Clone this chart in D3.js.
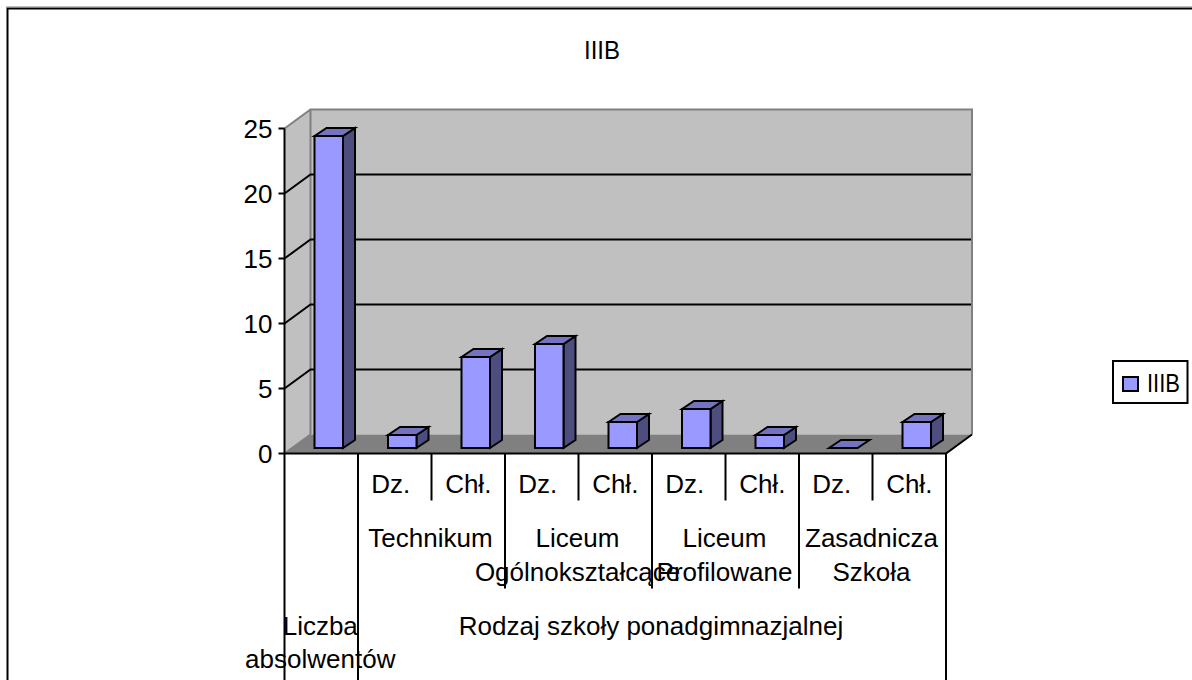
<!DOCTYPE html>
<html><head><meta charset="utf-8">
<script src="https://cdn.jsdelivr.net/npm/d3@7/dist/d3.min.js"></script>
<style>html,body{margin:0;padding:0;background:#fff;overflow:hidden}svg{display:block}text{font-family:"Liberation Sans",Arial,sans-serif;fill:#000}</style>
</head><body><svg id="c" width="1192" height="680"></svg>
<script>
const chartTitle = "IIIB";
const seriesName = "IIIB";
const leafLabels = ["", "Dz.", "Chł.", "Dz.", "Chł.", "Dz.", "Chł.", "Dz.", "Chł."];
const values = [24, 1, 7, 8, 2, 3, 1, 0, 2];
const yTicks = [0, 5, 10, 15, 20, 25];
const groupLabels = [[1, 3, ["Technikum"]], [3, 5, ["Liceum", "Ogólnokształcące"]], [5, 7, ["Liceum", "Profilowane"]], [7, 9, ["Zasadnicza", "Szkoła"]]];
const topLabels = [[0, 1, ["Liczba", "absolwentów"]], [1, 9, ["Rodzaj szkoły ponadgimnazjalnej"]]];

const svg = d3.select("#c");
const fs = 26;
const x0 = 284.5, x1 = 946, yB = 453.5, yT = 128.5;
const dx = 26, dy = 19;            // 3-D wall depth
const bdx = 7.5, bdy = 5.5;        // bar front offset from front plane
const bsx = 12, bsy = 8;           // bar depth
const barW = 28.5;
const x = d3.scaleBand().domain(d3.range(values.length)).range([x0, x1]);
const y = d3.scaleLinear().domain([0, 25]).range([yB, yT]);
const poly = pts => pts.map(p => p.join(",")).join(" ");

// outer frame
svg.append("path").attr("d", "M7.5,680V8.5H1192").attr("fill", "none").attr("stroke", "#000").attr("stroke-width", 2);
svg.append("path").attr("d", "M6,7H1192").attr("fill", "none").attr("stroke", "#808080").attr("stroke-width", 1);

// title
svg.append("text").attr("x", 602).attr("y", 59).attr("text-anchor", "middle").attr("font-size", fs).attr("textLength", 36).attr("lengthAdjust", "spacingAndGlyphs").text(chartTitle);

// walls
svg.append("polygon").attr("points", poly([[x0 + dx, yT - dy], [x1 + dx, yT - dy], [x1 + dx, yB - dy], [x0 + dx, yB - dy]])).attr("fill", "#c0c0c0");
svg.append("polygon").attr("points", poly([[x0, yT], [x0 + dx, yT - dy], [x0 + dx, yB - dy], [x0, yB]])).attr("fill", "#c0c0c0");
svg.append("polygon").attr("points", poly([[x0, yB], [x0 + dx, yB - dy], [x1 + dx, yB - dy], [x1, yB]])).attr("fill", "#808080");
svg.append("path").attr("d", `M${x0},${yT}L${x0 + dx},${yT - dy}H${x1 + dx}V${yB - dy}M${x0 + dx},${yT - dy}V${yB - dy}M${x0},${yB}L${x0 + dx},${yB - dy}`).attr("fill", "none").attr("stroke", "#808080").attr("stroke-width", 2);

// gridlines
yTicks.filter(t => t > 0 && t < 25).forEach(t => {
  svg.append("path").attr("d", `M${x0},${y(t)}L${x0 + dx},${y(t) - dy}H${x1 + dx - 1}`).attr("fill", "none").attr("stroke", "#000").attr("stroke-width", 2);
});

// axes
svg.append("path").attr("d", `M${x0},${yT}V${yB}H${x1}L${x1 + dx},${yB - dy}`).attr("fill", "none").attr("stroke", "#000").attr("stroke-width", 2);
yTicks.forEach(t => {
  svg.append("line").attr("x1", x0 - 6).attr("x2", x0).attr("y1", y(t)).attr("y2", y(t)).attr("stroke", "#000").attr("stroke-width", 2);
  svg.append("text").attr("x", x0 - 12).attr("y", y(t) + 9).attr("text-anchor", "end").attr("font-size", fs).text(t);
});

// bars
values.forEach((v, i) => {
  const cx = x(i) + x.bandwidth() / 2 + bdx;
  const l = cx - barW / 2, r = cx + barW / 2, b = yB - bdy, t = y(v) - bdy;
  const g = svg.append("g").attr("stroke", "#000").attr("stroke-width", 2).attr("stroke-linejoin", "miter");
  if (v > 0) {
    g.append("polygon").attr("points", poly([[r, b], [r + bsx, b - bsy], [r + bsx, t - bsy], [r, t]])).attr("fill", "#4d4d80");
    g.append("rect").attr("x", l).attr("y", t).attr("width", barW).attr("height", b - t).attr("fill", "#9999ff");
  }
  g.append("polygon").attr("points", poly([[l, t], [l + bsx, t - bsy], [r + bsx, t - bsy], [r, t]])).attr("fill", "#7373bf");
});

// multi-level category axis
const sep = (i, len) => svg.append("line").attr("x1", x0 + i * x.bandwidth()).attr("x2", x0 + i * x.bandwidth()).attr("y1", yB).attr("y2", yB + len).attr("stroke", "#000").attr("stroke-width", 2);
[2, 4, 6, 8].forEach(i => sep(i, 47));
[3, 5, 7].forEach(i => sep(i, 135));
[0, 1, 9].forEach(i => sep(i, 227));

leafLabels.forEach((s, i) => {
  const nudge = s === "Dz." ? -4 : 0;
  svg.append("text").attr("x", x(i) + x.bandwidth() / 2 + nudge).attr("y", 493).attr("text-anchor", "middle").attr("font-size", fs).text(s);
});
const span = (a, b) => x0 + (a + b) / 2 * x.bandwidth();
groupLabels.forEach(([a, b, lines]) => lines.forEach((s, k) => {
  svg.append("text").attr("x", span(a, b) - 1).attr("y", 547 + k * 34).attr("text-anchor", "middle").attr("font-size", fs).text(s);
}));
topLabels.forEach(([a, b, lines]) => lines.forEach((s, k) => {
  svg.append("text").attr("x", span(a, b) - 1).attr("y", 635 + k * 33).attr("text-anchor", "middle").attr("font-size", fs).text(s);
}));

// legend
svg.append("rect").attr("x", 1113).attr("y", 361).attr("width", 74.5).attr("height", 42).attr("fill", "#fff").attr("stroke", "#000").attr("stroke-width", 2);
svg.append("rect").attr("x", 1123).attr("y", 377).attr("width", 15).attr("height", 14).attr("fill", "#9999ff").attr("stroke", "#000").attr("stroke-width", 2);
svg.append("text").attr("x", 1147).attr("y", 392).attr("font-size", fs).attr("textLength", 33).attr("lengthAdjust", "spacingAndGlyphs").text(seriesName);
</script></body></html>
